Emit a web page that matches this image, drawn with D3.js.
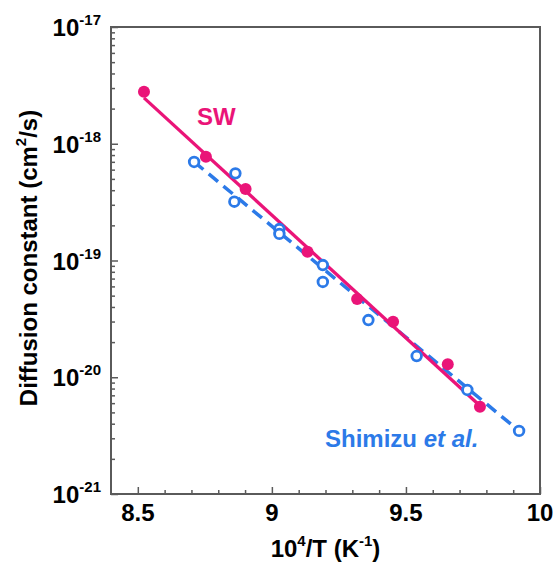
<!DOCTYPE html>
<meta charset="utf-8">

<style>
  body { margin: 0; background: #fff; }
  text { font-family: "Liberation Sans", Arial, sans-serif; font-weight: bold; }
  .frame { fill: none; stroke: #5a5a5a; stroke-width: 2; }
  .tick line { stroke: #5a5a5a; stroke-width: 1.5; }
</style>

<svg width="555" height="567"></svg>

<script src="https://d3js.org/d3.v7.min.js"></script>
<script>
// ====================================================================
// data: x = 10^4/T (1/K), y = D (cm^2/s)
const swX = [8.523, 8.754, 8.902, 9.133, 9.318, 9.452, 9.656, 9.776]
const swY = [2.79e-18, 7.74e-19, 4.09e-19, 1.19e-19, 4.68e-20, 2.99e-20, 1.29e-20, 5.6e-21]

const shX = [8.710, 8.864, 8.860, 9.028, 9.028, 9.190, 9.190, 9.360, 9.540, 9.729, 9.922]
const shY = [6.98e-19, 5.58e-19, 3.19e-19, 1.86e-19, 1.69e-19, 9.14e-20, 6.55e-20, 3.09e-20, 1.52e-20, 7.78e-21, 3.47e-21]

// fitted lines (end points)
const swFitX = [8.523, 9.776]
const swFitY = [2.47e-18, 5.7e-21]
const shFitX = [8.710, 9.922]
const shFitY = [7.0e-19, 3.47e-21]

const xTicks = [8.5, 9, 9.5, 10]
const xTickLabels = ["8.5", "9", "9.5", "10"]
const xMinor = [8.6, 8.7, 8.8, 8.9, 9.1, 9.2, 9.3, 9.4, 9.6, 9.7, 9.8, 9.9]
const yTicks = [1e-21, 1e-20, 1e-19, 1e-18, 1e-17]
const yTickExp = ["-21", "-20", "-19", "-18", "-17"]

const pink = "#ea1478"
const blue = "#2c7ae8"

// ====================================================================
const svg = d3.select("svg")
const mLeft = 111, mRight = 540, mTop = 27, mBottom = 494

const x = d3.scaleLinear().domain([8.4, 10]).range([mLeft, mRight])
const y = d3.scaleLog().domain([1e-21, 1e-17]).range([mBottom, mTop])

const yMinor = []
yTicks.slice(0, -1).forEach(d => { for (let k = 2; k < 10; k++) yMinor.push(d * k) })

//inward ticks
svg.append("g").attr("transform", `translate(0,${mBottom})`)
    .call(d3.axisBottom(x).tickValues(xTicks).tickSize(-7).tickFormat(""))
svg.append("g").attr("transform", `translate(0,${mBottom})`)
    .call(d3.axisBottom(x).tickValues(xMinor).tickSize(-4).tickFormat(""))
svg.append("g").attr("transform", `translate(${mLeft},0)`)
    .call(d3.axisLeft(y).tickValues(yTicks).tickSize(-7).tickFormat(""))
svg.append("g").attr("transform", `translate(${mLeft},0)`)
    .call(d3.axisLeft(y).tickValues(yMinor).tickSize(-4).tickFormat(""))
svg.selectAll(".domain").remove()

svg.append("rect").attr("class", "frame")
    .attr("x", mLeft).attr("y", mTop)
    .attr("width", mRight - mLeft).attr("height", mBottom - mTop)

//tick labels
svg.selectAll("text.xlab")
    .data(xTicks)
    .join("text")
    .attr("class", "xlab")
    .attr("x", d => x(d))
    .attr("y", 521)
    .attr("text-anchor", "middle")
    .attr("font-size", 24)
    .text((d, i) => xTickLabels[i])

const ylab = svg.selectAll("text.ylab")
    .data(yTicks)
    .join("text")
    .attr("class", "ylab")
    .attr("x", 101)
    .attr("y", d => y(d) + 9)
    .attr("text-anchor", "end")
    .attr("font-size", 24)
ylab.append("tspan").text("10")
ylab.append("tspan").attr("dy", -11).attr("font-size", 15).text((d, i) => yTickExp[i])

//axis titles
const xt = svg.append("text")
    .attr("x", (mLeft + mRight) / 2)
    .attr("y", 557)
    .attr("text-anchor", "middle")
    .attr("font-size", 24)
xt.append("tspan").text("10")
xt.append("tspan").attr("dy", -11).attr("font-size", 15).text("4")
xt.append("tspan").attr("dy", 11).text("/T (K")
xt.append("tspan").attr("dy", -11).attr("font-size", 15).text("-1")
xt.append("tspan").attr("dy", 11).text(")")

const yt = svg.append("text")
    .attr("transform", "translate(37,258) rotate(-90)")
    .attr("text-anchor", "middle")
    .attr("font-size", 24)
yt.append("tspan").text("Diffusion constant (cm")
yt.append("tspan").attr("dy", -11).attr("font-size", 15).text("2")
yt.append("tspan").attr("dy", 11).text("/s)")

//lines
const line = d3.line().x(d => x(d[0])).y(d => y(d[1]))

svg.append("path")
    .datum(shFitX.map((d, i) => [d, shFitY[i]]))
    .attr("d", line)
    .attr("fill", "none")
    .attr("stroke", blue)
    .attr("stroke-width", 3.5)
    .attr("stroke-dasharray", "12,7")

svg.append("path")
    .datum(swFitX.map((d, i) => [d, swFitY[i]]))
    .attr("d", line)
    .attr("fill", "none")
    .attr("stroke", pink)
    .attr("stroke-width", 3.3)

//points
svg.append("g")
    .selectAll("circle")
    .data(shX.map((d, i) => [d, shY[i]]))
    .join("circle")
    .attr("cx", d => x(d[0]))
    .attr("cy", d => y(d[1]))
    .attr("r", 4.8)
    .attr("fill", "#fff")
    .attr("stroke", blue)
    .attr("stroke-width", 2.8)

svg.append("g")
    .selectAll("circle")
    .data(swX.map((d, i) => [d, swY[i]]))
    .join("circle")
    .attr("cx", d => x(d[0]))
    .attr("cy", d => y(d[1]))
    .attr("r", 6)
    .attr("fill", pink)

//series labels
svg.append("text")
    .attr("x", 197).attr("y", 125)
    .attr("font-size", 24)
    .attr("fill", pink)
    .text("SW")

const sh = svg.append("text")
    .attr("x", 325).attr("y", 447)
    .attr("font-size", 24)
    .attr("fill", blue)
sh.append("tspan").text("Shimizu ")
sh.append("tspan").attr("font-style", "italic").text("et al.")

</script>
